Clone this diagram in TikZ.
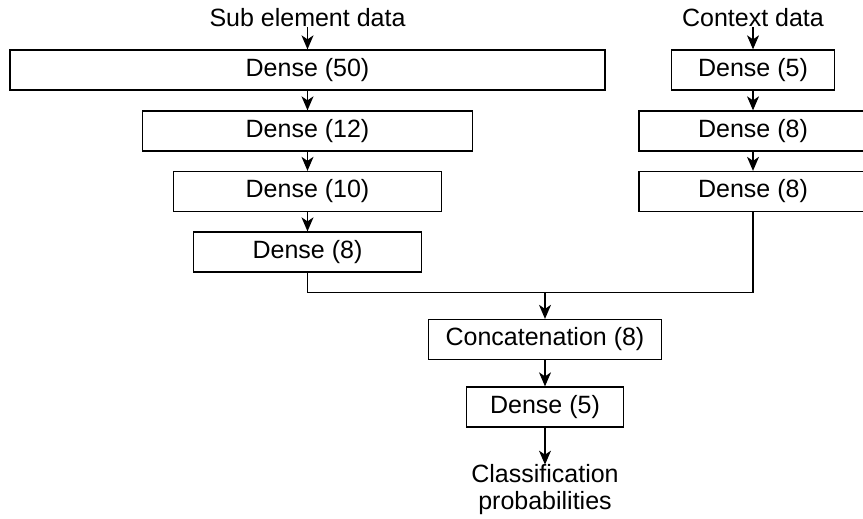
\documentclass[tikz,border=0pt]{standalone}
\usepackage{fontspec}
\setmainfont{Liberation Sans}
\usetikzlibrary{arrows.meta}
\begin{document}
\begin{tikzpicture}[x=1pt,y=-1pt,
  box/.style={draw=black, line width=1.3pt, minimum height=40pt, inner sep=0pt, font=\fontsize{25}{28}\selectfont},
  lbl/.style={font=\fontsize{25}{27}\selectfont, inner sep=0pt, align=center},
  arr/.style={-{Stealth[length=14pt,width=12pt,inset=4pt]}, line width=1.2pt},
  wire/.style={line width=1.2pt}]
\useasboundingbox (0,0) rectangle (863,519);
% left column
\node[lbl] (sub) at (307.5,18) {Sub element data};
\node[box, minimum width=595pt] (d50) at (307.5,70) {Dense (50)};
\node[box, minimum width=330pt] (d12) at (307.5,131) {Dense (12)};
\node[box, minimum width=268pt] (d10) at (307.5,191.5) {Dense (10)};
\node[box, minimum width=228pt] (d8l) at (307.5,252) {Dense (8)};
% right column
\node[lbl] (ctx) at (753,18) {Context data};
\node[box, minimum width=163pt] (d5r) at (753,70) {Dense (5)};
\node[box, minimum width=228pt] (d8a) at (753,131) {Dense (8)};
\node[box, minimum width=228pt] (d8b) at (753,191.5) {Dense (8)};
% merge
\coordinate (j) at (545,292.5);
\node[box, minimum width=233pt, minimum height=40pt] (cat) at (545,339.5) {Concatenation (8)};
\node[box, minimum width=157pt] (d5) at (545,407) {Dense (5)};
\node[lbl] (out) at (545,490) {Classification\\probabilities};
% connectors
\draw[arr] (sub) -- (d50);
\draw[arr] (d50) -- (d12);
\draw[arr] (d12) -- (d10);
\draw[arr] (d10) -- (d8l);
\draw[arr] (ctx) -- (d5r);
\draw[arr] (d5r) -- (d8a);
\draw[arr] (d8a) -- (d8b);
\draw[wire] (d8l.south) |- (j) -| (d8b.south);
\draw[arr] (j) -- (cat);
\draw[arr] (cat) -- (d5);
\draw[arr] (d5) -- (out);
\end{tikzpicture}
\end{document}
